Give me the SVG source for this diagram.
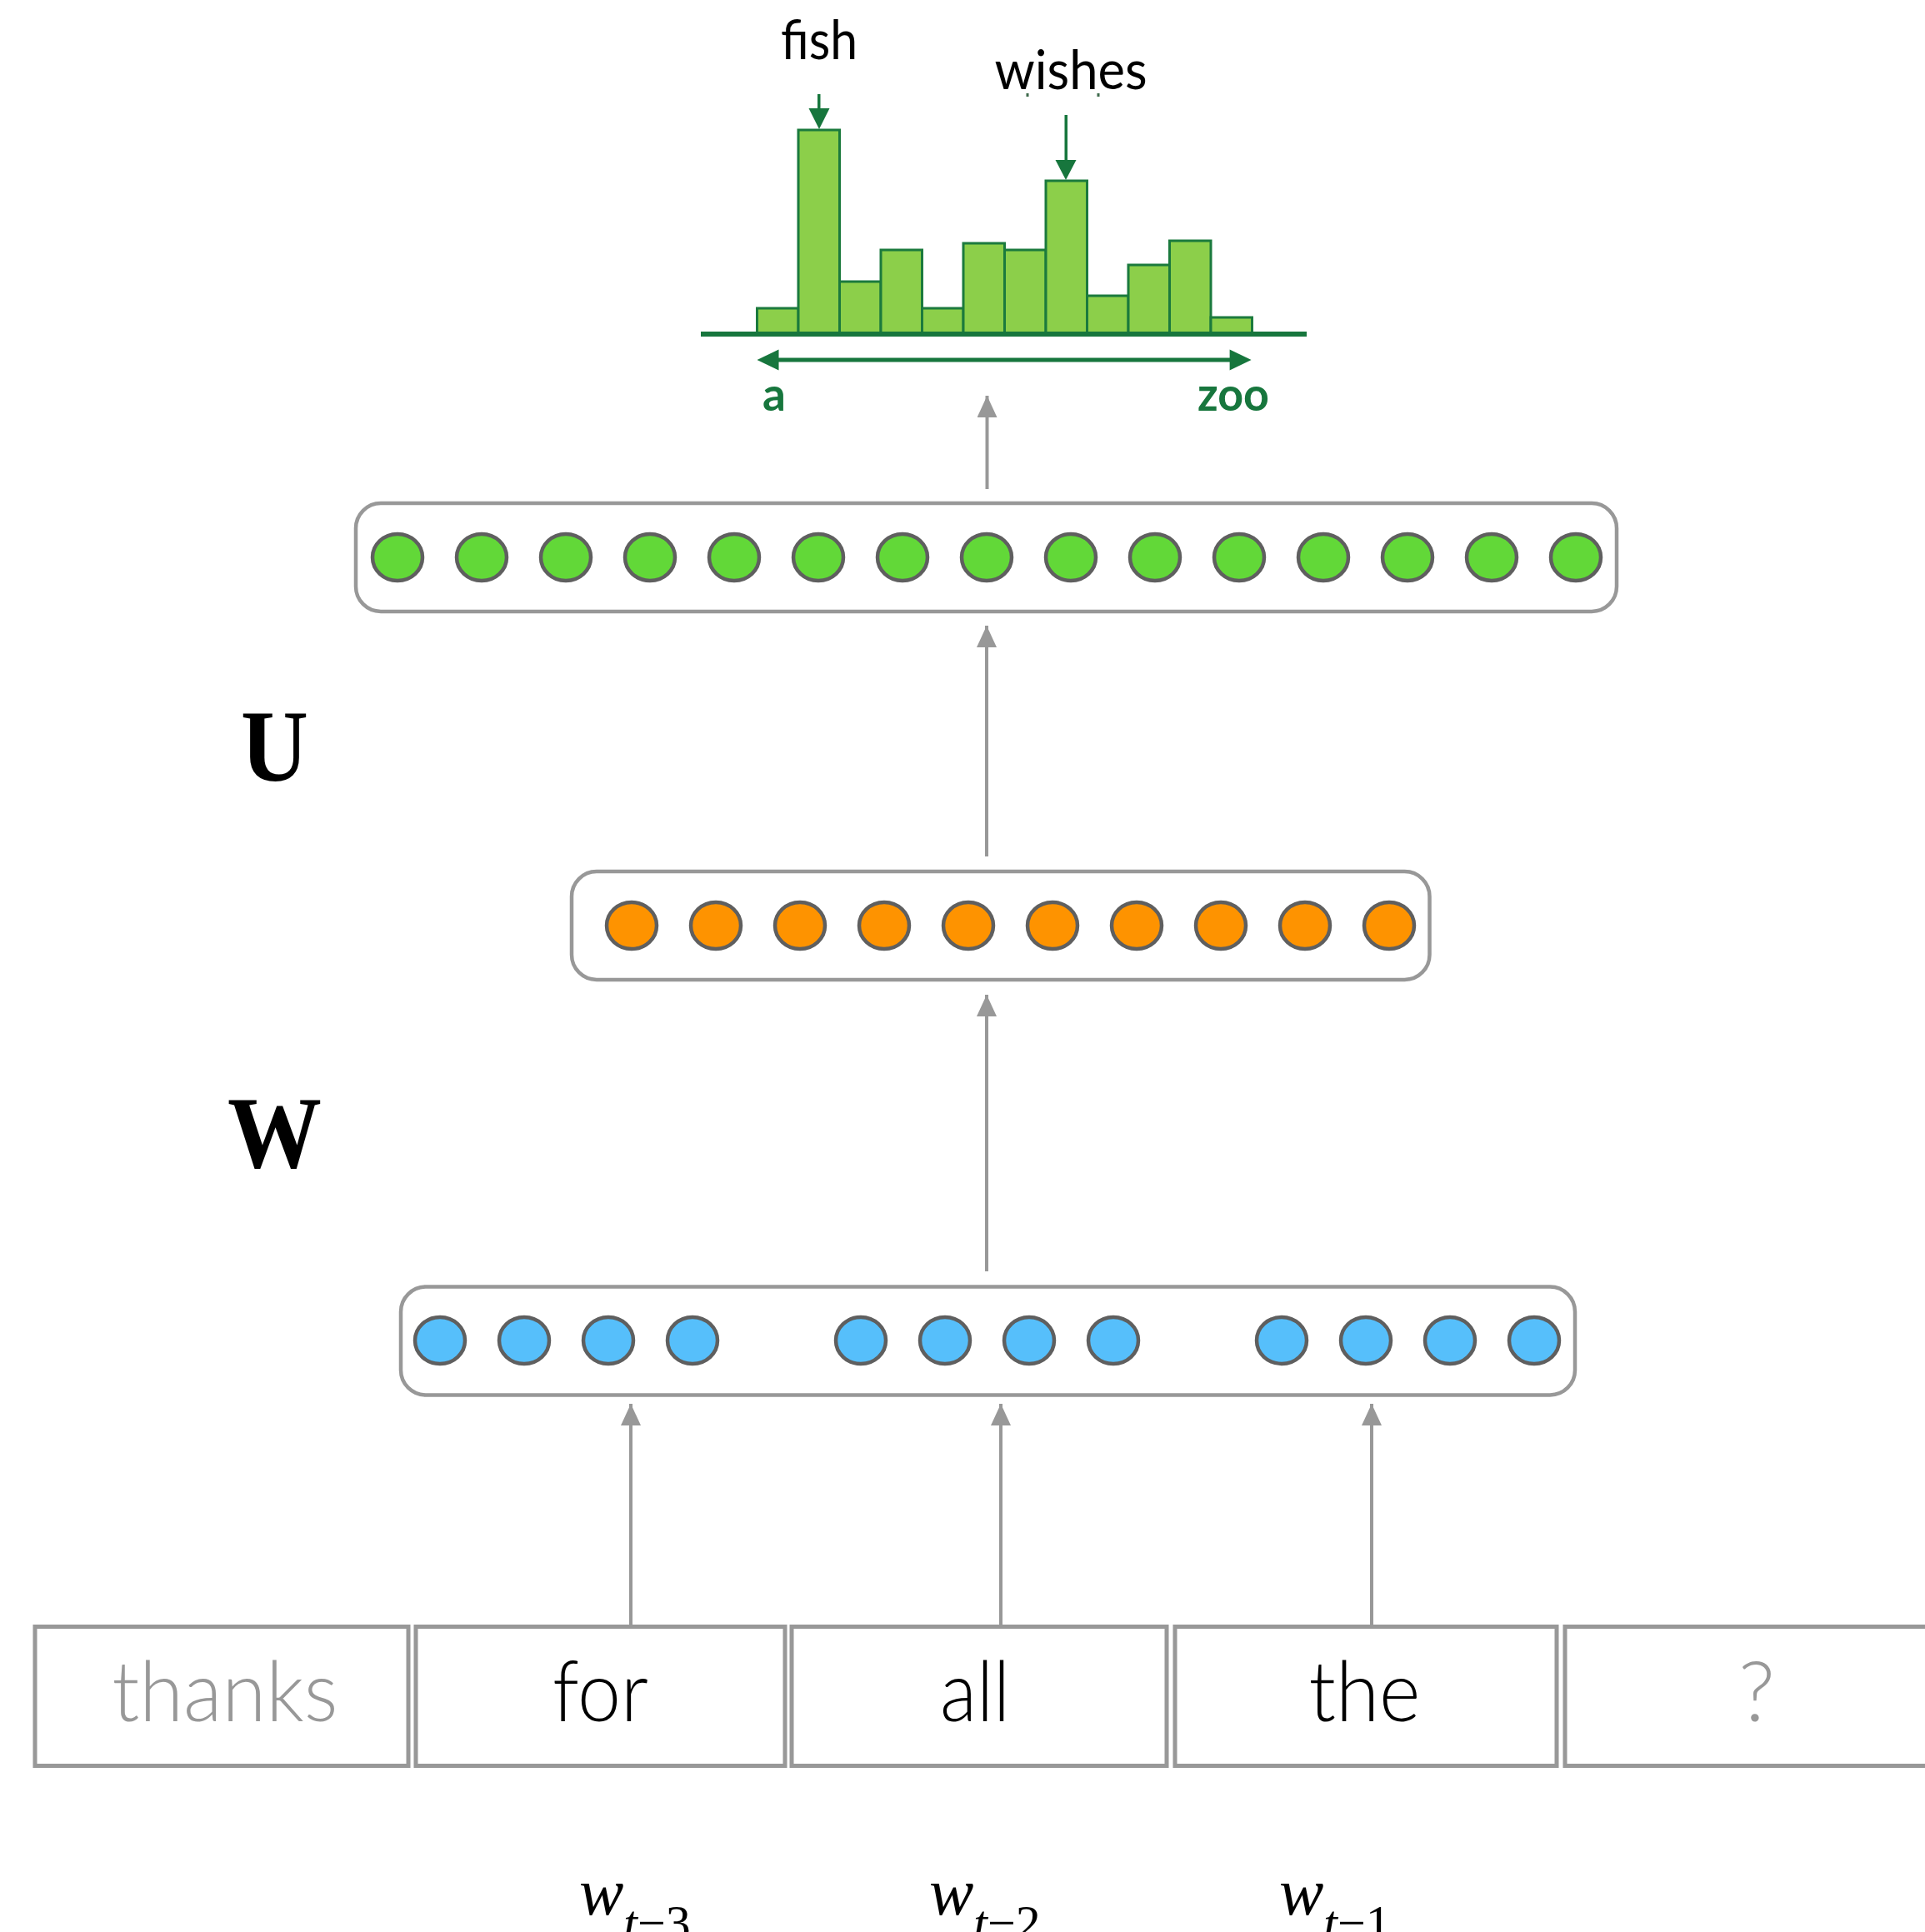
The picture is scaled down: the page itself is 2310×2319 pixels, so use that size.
<svg xmlns="http://www.w3.org/2000/svg" width="2310" height="2319" viewBox="0 0 2310 2319">
  <defs>
    <style>
      .box { fill: #ffffff; stroke: #989898; stroke-width: 4.5; }
      .unit { stroke: #5f5f5f; stroke-width: 4.5; }
      .out { fill: #62d838; }
      .hid { fill: #fe9300; }
      .emb { fill: #56bffb; }
      .conn { stroke: #989898; stroke-width: 4; fill: none; }
      .bar { fill: #8ccf4a; stroke: #1b7a3d; stroke-width: 3; }
      .dg { fill: #17763d; }
      .word { font-family: Lato, "Noto Sans", sans-serif; font-weight: 300; font-size: 101px; text-anchor: middle; }
      .cell { fill: #ffffff; stroke: #989898; stroke-width: 5; }
      .mat { font-family: "Liberation Serif", "Times New Roman", serif; font-weight: bold; font-size: 122px; text-anchor: middle; fill: #000; }
      .var { font-family: "Liberation Serif", "Times New Roman", serif; font-size: 80px; fill: #000; }
      .lbl { font-family: Lato, "Noto Sans", sans-serif; font-weight: 400; font-size: 66px; fill: #000; text-anchor: middle; }
      .axl { font-family: Lato, "Noto Sans", sans-serif; font-weight: bold; font-size: 55px; fill: #17763d; }
    </style>
    <marker id="head" viewBox="0 0 26 24" refX="26" refY="12" markerWidth="26" markerHeight="24" markerUnits="userSpaceOnUse" orient="auto">
      <path d="M0,0 L26,12 L0,24 Z" fill="#989898"/>
    </marker>
  </defs>

  <rect width="2310" height="2319" fill="#ffffff"/>

  <!-- output distribution over the vocabulary -->
  <g id="distribution">
    <rect class="bar" x="908.5" y="370" width="49.5" height="30"/>
    <rect class="bar" x="958" y="156" width="49.5" height="244"/>
    <rect class="bar" x="1007.5" y="338" width="49.5" height="62"/>
    <rect class="bar" x="1057" y="300" width="49.5" height="100"/>
    <rect class="bar" x="1106.5" y="370" width="49.5" height="30"/>
    <rect class="bar" x="1156" y="292" width="49.5" height="108"/>
    <rect class="bar" x="1205.5" y="300" width="49.5" height="100"/>
    <rect class="bar" x="1255" y="217" width="49.5" height="183"/>
    <rect class="bar" x="1304.5" y="355" width="49.5" height="45"/>
    <rect class="bar" x="1354" y="318" width="49.5" height="82"/>
    <rect class="bar" x="1403.5" y="289" width="49.5" height="111"/>
    <rect class="bar" x="1453" y="381" width="49.5" height="19"/>
    <rect class="dg" x="841" y="398" width="727" height="6"/>
    <!-- vocabulary range arrow -->
    <rect class="dg" x="932" y="429.5" width="546" height="5"/>
    <path class="dg" d="M908.5,432 L934.5,419.5 L934.5,444.5 Z"/>
    <path class="dg" d="M1501.6,432 L1475.6,419.5 L1475.6,444.5 Z"/>
    <text class="axl" x="929" y="493" text-anchor="middle">a</text>
    <text class="axl" x="1480" y="493" text-anchor="middle" textLength="86" lengthAdjust="spacingAndGlyphs">zoo</text>
    <!-- pointers to the two peaks -->
    <rect class="dg" x="981" y="113" width="3.5" height="20"/>
    <path class="dg" d="M970.5,130 L995.5,130 L983,155 Z"/>
    <rect class="dg" x="1277.5" y="138" width="3.5" height="56"/>
    <path class="dg" d="M1266.5,192 L1291.5,192 L1279,216 Z"/>
    <text class="lbl" x="983" y="71" textLength="92" lengthAdjust="spacingAndGlyphs">fish</text>
    <text class="lbl" x="1285" y="107" textLength="183" lengthAdjust="spacingAndGlyphs">wishes</text>
    <rect x="1231.5" y="112" width="3" height="4" fill="#3f6a4c"/>
    <rect x="1316.5" y="112" width="3" height="4" fill="#3f6a4c"/>
  </g>

  <!-- output layer -->
  <g id="output-layer">
    <rect class="box" x="427" y="604" width="1513" height="130" rx="30" ry="30"/>
    <g class="unit out">
      <ellipse cx="477" cy="669" rx="30" ry="28"/>
      <ellipse cx="578" cy="669" rx="30" ry="28"/>
      <ellipse cx="679" cy="669" rx="30" ry="28"/>
      <ellipse cx="780" cy="669" rx="30" ry="28"/>
      <ellipse cx="881" cy="669" rx="30" ry="28"/>
      <ellipse cx="982" cy="669" rx="30" ry="28"/>
      <ellipse cx="1083" cy="669" rx="30" ry="28"/>
      <ellipse cx="1184" cy="669" rx="30" ry="28"/>
      <ellipse cx="1285" cy="669" rx="30" ry="28"/>
      <ellipse cx="1386" cy="669" rx="30" ry="28"/>
      <ellipse cx="1487" cy="669" rx="30" ry="28"/>
      <ellipse cx="1588" cy="669" rx="30" ry="28"/>
      <ellipse cx="1689" cy="669" rx="30" ry="28"/>
      <ellipse cx="1790" cy="669" rx="30" ry="28"/>
      <ellipse cx="1891" cy="669" rx="30" ry="28"/>
    </g>
  </g>

  <!-- hidden layer -->
  <g id="hidden-layer">
    <rect class="box" x="686" y="1046" width="1029.5" height="130" rx="30" ry="30"/>
    <g class="unit hid">
      <ellipse cx="758" cy="1111" rx="30" ry="28"/>
      <ellipse cx="859" cy="1111" rx="30" ry="28"/>
      <ellipse cx="960" cy="1111" rx="30" ry="28"/>
      <ellipse cx="1061" cy="1111" rx="30" ry="28"/>
      <ellipse cx="1162" cy="1111" rx="30" ry="28"/>
      <ellipse cx="1263" cy="1111" rx="30" ry="28"/>
      <ellipse cx="1364" cy="1111" rx="30" ry="28"/>
      <ellipse cx="1465" cy="1111" rx="30" ry="28"/>
      <ellipse cx="1566" cy="1111" rx="30" ry="28"/>
      <ellipse cx="1667" cy="1111" rx="30" ry="28"/>
    </g>
  </g>

  <!-- concatenated embeddings -->
  <g id="embedding-layer">
    <rect class="box" x="481" y="1544.5" width="1409" height="130" rx="30" ry="30"/>
    <g class="unit emb">
      <ellipse cx="528" cy="1609" rx="30" ry="28"/>
      <ellipse cx="629" cy="1609" rx="30" ry="28"/>
      <ellipse cx="730" cy="1609" rx="30" ry="28"/>
      <ellipse cx="831" cy="1609" rx="30" ry="28"/>
      <ellipse cx="1033" cy="1609" rx="30" ry="28"/>
      <ellipse cx="1134" cy="1609" rx="30" ry="28"/>
      <ellipse cx="1235" cy="1609" rx="30" ry="28"/>
      <ellipse cx="1336" cy="1609" rx="30" ry="28"/>
      <ellipse cx="1538" cy="1609" rx="30" ry="28"/>
      <ellipse cx="1639" cy="1609" rx="30" ry="28"/>
      <ellipse cx="1740" cy="1609" rx="30" ry="28"/>
      <ellipse cx="1841" cy="1609" rx="30" ry="28"/>
    </g>
  </g>

  <!-- weight matrices -->
  <g id="matrix-U"><text class="mat" x="329.5" y="937" textLength="81" lengthAdjust="spacingAndGlyphs">U</text></g>
  <g id="matrix-W"><text class="mat" x="329.5" y="1401" textLength="113" lengthAdjust="spacingAndGlyphs">W</text></g>

  <!-- input words -->
  <g id="word-thanks">
    <rect class="cell" x="42" y="1952.5" width="448" height="167"/>
    <text class="word" x="270" y="2066" fill="#989898" textLength="271" lengthAdjust="spacingAndGlyphs">thanks</text>
  </g>
  <g id="word-for">
    <rect class="cell" x="499" y="1952.5" width="443" height="167"/>
    <text class="word" x="720.5" y="2066" fill="#000" textLength="115" lengthAdjust="spacingAndGlyphs">for</text>
  </g>
  <g id="word-all">
    <rect class="cell" x="950" y="1952.5" width="450" height="167"/>
    <text class="word" x="1170" y="2066" fill="#000" textLength="84" lengthAdjust="spacingAndGlyphs">all</text>
  </g>
  <g id="word-the">
    <rect class="cell" x="1410" y="1952.5" width="458" height="167"/>
    <text class="word" x="1637.5" y="2066" fill="#000" textLength="134" lengthAdjust="spacingAndGlyphs">the</text>
  </g>
  <g id="word-next">
    <rect class="cell" x="1878" y="1952.5" width="460" height="167"/>
    <text class="word" x="2108" y="2066" fill="#989898">?</text>
  </g>

  <!-- position labels (subscripts run past the lower edge) -->
  <g id="label-t3"><text class="var" x="695" y="2298"><tspan font-style="italic">w</tspan><tspan font-size="60" dy="30" font-style="italic">t</tspan><tspan font-size="60">−3</tspan></text></g>
  <g id="label-t2"><text class="var" x="1115" y="2298"><tspan font-style="italic">w</tspan><tspan font-size="60" dy="30" font-style="italic">t</tspan><tspan font-size="60">−2</tspan></text></g>
  <g id="label-t1"><text class="var" x="1535" y="2298"><tspan font-style="italic">w</tspan><tspan font-size="60" dy="30" font-style="italic">t</tspan><tspan font-size="60">−1</tspan></text></g>

  <!-- connectors -->
  <g id="connectors">
    <line class="conn" x1="757" y1="1952" x2="757" y2="1685" marker-end="url(#head)"/>
    <line class="conn" x1="1201" y1="1952" x2="1201" y2="1685" marker-end="url(#head)"/>
    <line class="conn" x1="1646" y1="1952" x2="1646" y2="1685" marker-end="url(#head)"/>
    <line class="conn" x1="1184" y1="1526" x2="1184" y2="1194" marker-end="url(#head)"/>
    <line class="conn" x1="1184" y1="1028" x2="1184" y2="751" marker-end="url(#head)"/>
    <line class="conn" x1="1184.5" y1="587" x2="1184.5" y2="475" marker-end="url(#head)"/>
  </g>
</svg>
